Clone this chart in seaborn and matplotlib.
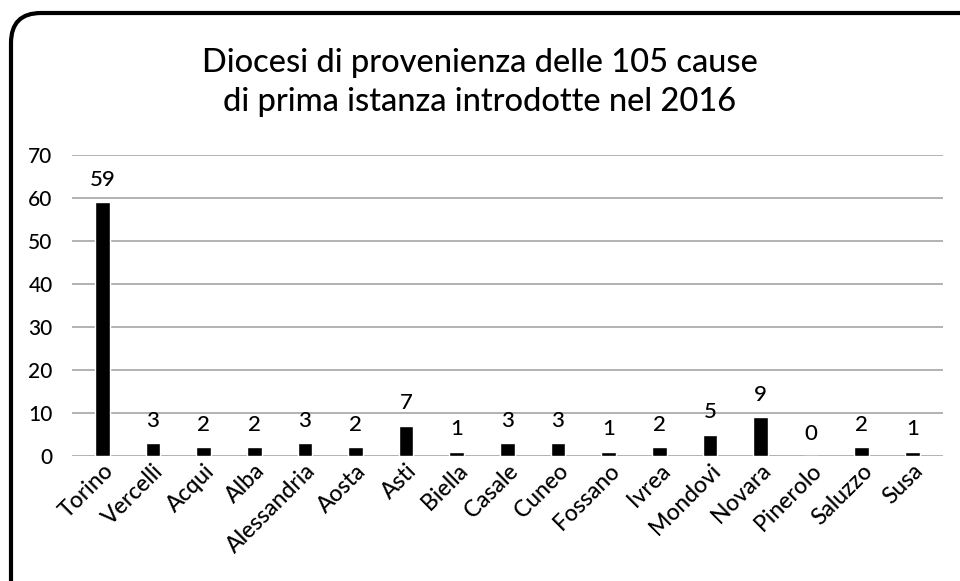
import matplotlib
matplotlib.use("Agg")
import matplotlib.pyplot as plt
from matplotlib.patches import FancyBboxPatch
from matplotlib.transforms import IdentityTransform
import seaborn as sns
import pandas as pd

# Data
diocesi = ["Torino", "Vercelli", "Acqui", "Alba", "Alessandria", "Aosta", "Asti",
           "Biella", "Casale", "Cuneo", "Fossano", "Ivrea", "Mondovi", "Novara",
           "Pinerolo", "Saluzzo", "Susa"]
cause = [59, 3, 2, 2, 3, 2, 7, 1, 3, 3, 1, 2, 5, 9, 0, 2, 1]
yticks = [0, 10, 20, 30, 40, 50, 60, 70]
title = "Diocesi di provenienza delle 105 cause\ndi prima istanza introdotte nel 2016"

df = pd.DataFrame({"Diocesi": diocesi, "Cause": cause})

sns.set_theme(style="white")
plt.rcParams['font.family'] = ['Lato', 'DejaVu Sans']
plt.rcParams['font.weight'] = 'medium'

fig = plt.figure(figsize=(9.6, 5.81), dpi=100)
ax = fig.add_axes([0.075, 0.215, 0.907, 0.518])

# rounded outer frame (pixel coords), running off the right and bottom edges
frame = FancyBboxPatch((11, -40), 1000, 608, transform=IdentityTransform(),
                       boxstyle="round,pad=0,rounding_size=30",
                       facecolor="none", edgecolor="black", linewidth=3)
fig.patches.append(frame)

sns.barplot(data=df, x="Diocesi", y="Cause", color="black", width=0.29,
            saturation=1, ax=ax)

ax.set_ylim(0, 70)
ax.set_yticks(yticks)
ax.set_xlim(-0.6, len(diocesi) - 0.4)
ax.yaxis.grid(True, color="#a6a6a6", linewidth=1.2)
ax.set_axisbelow(True)
for s in ax.spines.values():
    s.set_visible(False)
ax.set_xlabel("")
ax.set_ylabel("")
ax.tick_params(axis="y", labelsize=15, pad=14, length=0, labelcolor="black")
ax.tick_params(axis="x", labelsize=16.5, length=0, pad=3, labelcolor="black")
plt.setp(ax.get_xticklabels(), rotation=45, ha="right", rotation_mode="anchor")

for i, v in enumerate(cause):
    ax.annotate(str(v), (i, v), xytext=(0, 9), textcoords="offset points",
                ha="center", va="bottom", fontsize=16, color="black")

fig.text(0.5, 0.858, title, ha="center", va="center", fontsize=23.5,
         linespacing=1.35, color="black")

fig.savefig("out.png", dpi=100)
